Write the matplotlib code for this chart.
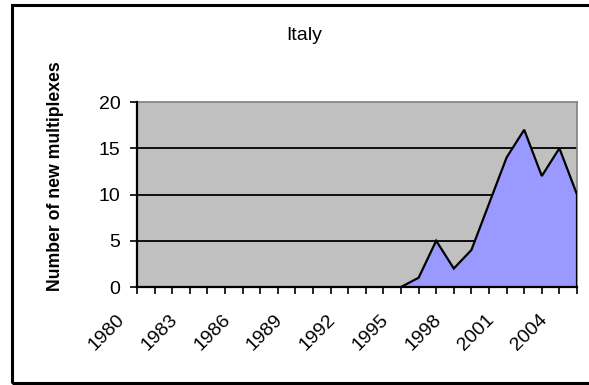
import matplotlib
matplotlib.use("Agg")
import matplotlib.pyplot as plt
from matplotlib.patches import Rectangle
from matplotlib.transforms import offset_copy
import numpy as np

plt.rcParams['font.family'] = ['Liberation Sans', 'DejaVu Sans']

years = list(range(1980, 2006))
new_multiplexes = [0, 0, 0, 0, 0, 0, 0, 0, 0, 0, 0, 0, 0, 0, 0, 0,
                   1, 5, 2, 4, 9, 14, 17, 12, 15, 10]
labelled_years = list(range(1980, 2006, 3))
y_ticks = [0, 5, 10, 15, 20]

W, H = 589, 385
fig = plt.figure(figsize=(W / 100, H / 100), dpi=100)

# outer chart border
fig.patches.append(Rectangle((12 / W, 1 - 383 / H), 600 / W, (383 - 5) / H,
                             transform=fig.transFigure, fill=False,
                             edgecolor='black', linewidth=2.2, zorder=10))

left, right, top, bottom = 137, 577, 102, 287
ax = fig.add_axes([left / W, 1 - bottom / H, (right - left) / W, (bottom - top) / H])
ax.set_facecolor('#C0C0C0')

x = np.arange(len(years))
# area with dark outline (top edge and closing right edge)
first = next(i for i, v in enumerate(new_multiplexes) if v > 0) - 1
xs = list(x[first:]) + [x[-1]]
ys = list(new_multiplexes[first:]) + [0]
ax.fill_between(x, new_multiplexes, 0, color='#9999FF', linewidth=0, zorder=2)
ax.plot(xs, ys, color='black', linewidth=1.6, zorder=3, solid_joinstyle='miter')

ax.set_xlim(0, len(years) - 1)
ax.set_ylim(0, 20)

for v in y_ticks[1:-1]:
    ax.axhline(v, color='black', linewidth=1.3, zorder=1)

for s in ['top', 'right']:
    ax.spines[s].set_color('#808080')
    ax.spines[s].set_linewidth(1.2)
for s in ['left', 'bottom']:
    ax.spines[s].set_color('black')
    ax.spines[s].set_linewidth(1.6)
    ax.spines[s].set_zorder(4)

ax.set_yticks(y_ticks)
ax.set_yticklabels([str(v) for v in y_ticks], fontsize=14)
ax.tick_params(axis='y', direction='out', length=5, width=1.2, pad=7)

ax.set_xticks(x)
ax.set_xticklabels([])
ax.tick_params(axis='x', direction='out', length=5, width=1.2)

lab_tr = offset_copy(ax.get_xaxis_transform(), fig=fig, x=-15, y=-30, units='dots')
for yr in labelled_years:
    ax.text(years.index(yr), 0, str(yr), transform=lab_tr, rotation=45,
            rotation_mode='anchor', ha='right', va='center', fontsize=14,
            clip_on=False)

fig.text(55 / W, 1 - 176 / H, 'Number of new multiplexes', rotation=90,
         ha='center', va='center', fontsize=12.7, fontweight='bold')
fig.text(304 / W, 1 - 35 / H, 'Italy', ha='center', va='center', fontsize=14)

fig.savefig('out.png', dpi=100)
